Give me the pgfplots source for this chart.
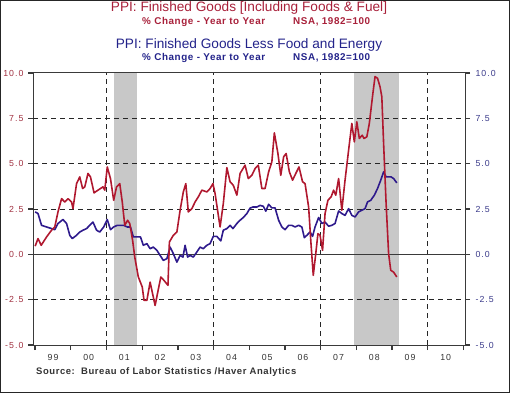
\documentclass[border=0pt]{standalone}
\usepackage{pgfplots}
\pgfplotsset{compat=1.18}
\usepackage{fontspec}
\setmainfont{Liberation Sans}
\newfontfamily\hvt[LetterSpace=12]{Liberation Sans}
\newfontfamily\hvs[LetterSpace=6]{Liberation Sans}
\definecolor{tred}{HTML}{A8203A}
\definecolor{lred}{HTML}{B0182F}
\definecolor{kred}{HTML}{A03040}
\definecolor{tblue}{HTML}{23238A}
\definecolor{lblue}{HTML}{2E1A8C}
\definecolor{kblue}{HTML}{3A3A8A}
\definecolor{rshade}{HTML}{C8C8C8}
\definecolor{axgray}{HTML}{3A3A3A}
\definecolor{txgray}{HTML}{333333}
\begin{document}
\begin{tikzpicture}[x=1bp,y=1bp]
\useasboundingbox (0,0) rectangle (510,393);
\draw[line width=1.3bp, black!85] (0.65,0.65) rectangle (509.35,392.35);
% titles
\node[text=tred, font=\fontsize{13.7}{15}\selectfont] at (249,385) {PPI: Finished Goods [Including Foods \& Fuel]};
\node[text=tred, font=\hvs\bfseries\fontsize{9.9}{11}\selectfont, anchor=west, inner sep=0pt] at (142,371) {\% Change - Year to Year};
\node[text=tred, font=\hvs\bfseries\fontsize{9.9}{11}\selectfont, anchor=west, inner sep=0pt] at (293,371) {NSA, 1982=100};
\node[text=tblue, font=\fontsize{13.7}{15}\selectfont] at (249,348) {PPI: Finished Goods Less Food and Energy};
\node[text=tblue, font=\hvs\bfseries\fontsize{9.9}{11}\selectfont, anchor=west, inner sep=0pt] at (142,335) {\% Change - Year to Year};
\node[text=tblue, font=\hvs\bfseries\fontsize{9.9}{11}\selectfont, anchor=west, inner sep=0pt] at (293,335) {NSA, 1982=100};
\node[text=txgray, font=\hvs\bfseries\fontsize{9.5}{11}\selectfont, anchor=west, inner sep=0pt] at (36,21) {Source:\ \ Bureau of Labor Statistics /Haver Analytics};
\begin{axis}[
  at={(33bp,48bp)}, anchor=south west, scale only axis,
  width=432bp, height=272bp,
  xmin=1998.94, xmax=2011.04, ymin=-5, ymax=10,
  axis line style={axgray, line width=1bp},
  every tick/.style={axgray, line width=1.3bp},
  tick align=outside, major tick length=5bp, minor tick length=3bp,
  xtick={1999,...,2011}, xticklabels={}, minor x tick num=3,
  xtick pos=bottom, ytick pos=left,
  extra x ticks={1999.5,2000.5,2001.5,2002.5,2003.5,2004.5,2005.5,2006.5,2007.5,2008.5,2009.5,2010.5},
  extra x tick labels={99,00,01,02,03,04,05,06,07,08,09,10},
  extra x tick style={major tick length=0pt, tick label style={text=txgray, font=\hvt\fontsize{8.8}{10}\selectfont, yshift=-6bp}},
  ytick={-5,-2.5,0,2.5,5,7.5,10},
  yticklabel style={text=kred, font=\hvt\fontsize{8.8}{10}\selectfont, xshift=-1bp},
  /pgf/number format/assume math mode=true,
  y tick label style={/pgf/number format/.cd, fixed, fixed zerofill, precision=1},
  clip=true,
]
\fill[rshade] (axis cs:2001.2,-5) rectangle (axis cs:2001.85,10);
\fill[rshade] (axis cs:2007.92,-5) rectangle (axis cs:2009.2,10);
\pgfplotsinvokeforeach{-2.5,2.5,5,7.5}{\draw[black!85, dash pattern=on 5bp off 4bp, line width=0.9bp] (axis cs:1998.94,#1) -- (axis cs:2011.04,#1);}
\pgfplotsinvokeforeach{2001,2004,2007,2010}{\draw[black!85, dash pattern=on 5bp off 4bp, line width=0.9bp] (axis cs:#1,-5) -- (axis cs:#1,10);}
\draw[axgray, line width=0.9bp] (axis cs:1998.94,0) -- (axis cs:2011.04,0);
\addplot[lblue, line width=1.6bp, line join=round] coordinates {
(1999.0,2.34) (1999.08,2.25) (1999.18,1.6) (1999.32,1.51) (1999.46,1.42) (1999.55,1.36) (1999.64,1.7) (1999.78,1.92) (1999.88,1.7) (1999.97,1.05) (2000.04,0.87) (2000.16,1.05) (2000.25,1.23) (2000.34,1.33) (2000.44,1.42) (2000.53,1.6) (2000.62,1.78) (2000.72,1.33) (2000.81,1.23) (2000.92,1.51) (2001.02,1.92) (2001.11,1.36) (2001.2,1.51) (2001.3,1.6) (2001.39,1.6) (2001.48,1.6) (2001.58,1.51) (2001.67,1.51) (2001.75,0.96) (2001.86,0.96) (2001.95,0.96) (2002.03,0.5) (2002.13,0.59) (2002.22,0.31) (2002.31,0.40) (2002.41,0.22) (2002.5,-0.06) (2002.59,-0.33) (2002.69,-0.24) (2002.78,0.40) (2002.87,0.04) (2002.97,-0.43) (2003.06,-0.06) (2003.14,-0.15) (2003.2,0.5) (2003.27,-0.15) (2003.34,-0.06) (2003.43,-0.15) (2003.53,0.13) (2003.62,0.40) (2003.71,0.31) (2003.81,0.5) (2003.9,0.59) (2003.99,0.99) (2004.09,0.99) (2004.2,0.74) (2004.27,1.33) (2004.37,1.42) (2004.46,1.6) (2004.54,1.42) (2004.65,1.7) (2004.74,1.88) (2004.83,2.03) (2004.93,2.25) (2005.02,2.55) (2005.1,2.61) (2005.21,2.61) (2005.3,2.7) (2005.39,2.65) (2005.46,2.38) (2005.54,2.76) (2005.63,2.56) (2005.72,2.56) (2005.82,1.88) (2005.91,1.51) (2006.0,1.36) (2006.1,1.6) (2006.19,1.6) (2006.28,1.51) (2006.38,1.6) (2006.47,1.51) (2006.54,0.92) (2006.61,1.05) (2006.7,1.23) (2006.77,0.99) (2006.84,1.51) (2006.94,2.03) (2007.03,1.7) (2007.12,1.78) (2007.22,1.55) (2007.31,1.6) (2007.4,1.7) (2007.5,2.39) (2007.59,2.25) (2007.68,2.15) (2007.78,2.52) (2007.87,2.15) (2007.96,2.06) (2008.06,2.34) (2008.15,2.43) (2008.24,2.52) (2008.31,2.89) (2008.4,2.98) (2008.5,3.26) (2008.59,3.63) (2008.68,4.09) (2008.76,4.55) (2008.83,4.27) (2008.9,4.27) (2008.97,4.27) (2009.04,4.18) (2009.13,3.94)
};
\addplot[lred, line width=1.6bp, line join=round] coordinates {
(1999.0,0.45) (1999.08,0.87) (1999.17,0.5) (1999.32,0.96) (1999.46,1.33) (1999.55,1.51) (1999.64,2.34) (1999.74,3.07) (1999.83,2.89) (1999.92,3.07) (2000.02,2.89) (2000.06,2.52) (2000.16,3.9) (2000.25,4.27) (2000.33,3.63) (2000.39,3.72) (2000.48,4.46) (2000.55,4.27) (2000.65,3.39) (2000.76,3.54) (2000.9,3.72) (2000.95,3.54) (2001.02,4.82) (2001.11,4.18) (2001.2,2.98) (2001.28,3.72) (2001.37,3.9) (2001.44,2.89) (2001.51,1.6) (2001.59,1.88) (2001.65,1.7) (2001.73,0.77) (2001.79,-0.15) (2001.89,-1.25) (2002.0,-1.8) (2002.05,-2.54) (2002.13,-2.54) (2002.22,-1.53) (2002.36,-2.82) (2002.52,-1.25) (2002.61,-1.44) (2002.72,-1.71) (2002.76,0.68) (2002.87,1.05) (2002.97,1.23) (2003.06,2.43) (2003.15,3.44) (2003.22,3.9) (2003.29,2.34) (2003.39,2.52) (2003.48,2.89) (2003.57,3.17) (2003.67,3.54) (2003.81,3.44) (2003.9,3.63) (2003.98,3.9) (2004.04,3.35) (2004.18,1.51) (2004.27,2.8) (2004.37,4.78) (2004.46,4.0) (2004.55,3.81) (2004.65,3.26) (2004.74,4.46) (2004.88,4.92) (2004.97,4.18) (2005.07,4.36) (2005.16,4.73) (2005.25,4.92) (2005.35,3.63) (2005.44,3.63) (2005.54,4.55) (2005.63,5.1) (2005.7,6.7) (2005.8,5.56) (2005.88,4.36) (2005.96,5.38) (2006.03,5.56) (2006.12,4.55) (2006.21,4.09) (2006.3,4.46) (2006.39,4.82) (2006.49,4.0) (2006.56,3.9) (2006.66,2.61) (2006.72,0.77) (2006.79,-1.16) (2006.86,0.04) (2006.92,1.14) (2006.98,1.05) (2007.05,0.22) (2007.12,2.25) (2007.2,2.98) (2007.29,3.17) (2007.36,3.54) (2007.42,3.26) (2007.5,4.18) (2007.59,2.43) (2007.68,4.09) (2007.78,5.75) (2007.87,7.22) (2007.94,6.2) (2008.01,7.31) (2008.08,6.39) (2008.16,6.57) (2008.21,6.39) (2008.29,6.48) (2008.36,7.22) (2008.46,8.88) (2008.52,9.8) (2008.59,9.71) (2008.66,9.24) (2008.71,8.69) (2008.76,6.12) (2008.83,2.8) (2008.9,0.04) (2008.96,-0.88) (2009.04,-0.98) (2009.13,-1.25)
};
\end{axis}
\begin{axis}[
  at={(33bp,48bp)}, anchor=south west, scale only axis,
  width=432bp, height=272bp,
  xmin=1998.94, xmax=2011.04, ymin=-5, ymax=10,
  axis y line*=right, axis x line=none,
  axis line style={axgray, line width=1bp},
  every tick/.style={axgray, line width=1.3bp},
  tick align=outside, major tick length=5bp,
  ytick={-5,-2.5,0,2.5,5,7.5,10},
  yticklabel style={text=kblue, font=\hvt\fontsize{8.8}{10}\selectfont, xshift=2bp},
  /pgf/number format/assume math mode=true,
  y tick label style={/pgf/number format/.cd, fixed, fixed zerofill, precision=1},
]
\end{axis}
\end{tikzpicture}
\end{document}
